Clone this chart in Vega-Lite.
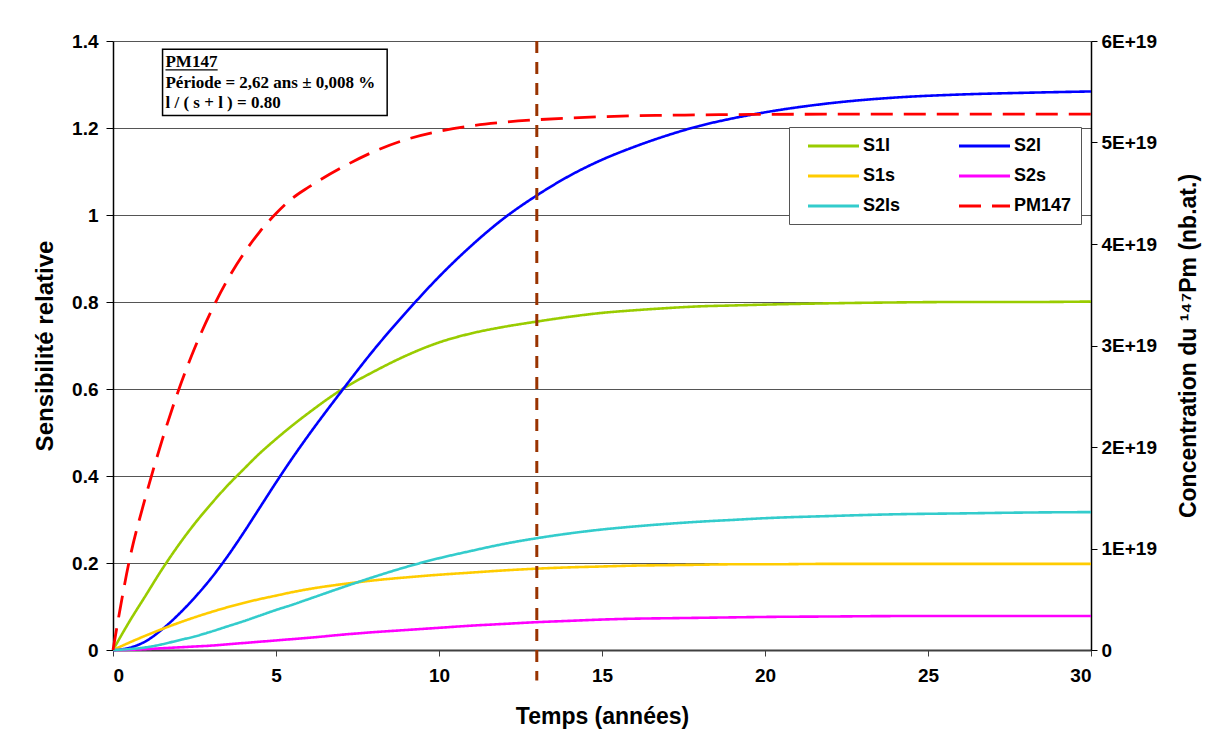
{
  "$schema": "https://vega.github.io/schema/vega-lite/v6.json",
  "width": 978,
  "height": 609,
  "autosize": {"type": "none"},
  "padding": {"left": 113, "top": 41, "right": 124, "bottom": 104},
  "background": "white",
  "config": {
    "view": {"stroke": null},
    "font": "Liberation Sans",
    "axis": {
      "labelFont": "Liberation Sans",
      "labelFontWeight": "bold",
      "labelFontSize": 19,
      "labelColor": "black",
      "titleFont": "Liberation Sans",
      "titleFontWeight": "bold",
      "titleFontSize": 23,
      "titleColor": "black"
    },
    "legend": {
      "orient": "none",
      "legendX": 676,
      "legendY": 86,
      "columns": 2,
      "fillColor": "white",
      "strokeColor": "#555555",
      "padding": 9,
      "labelFont": "Liberation Sans",
      "labelFontWeight": "bold",
      "labelFontSize": 18,
      "labelColor": "black",
      "symbolType": "M0,0H6",
      "symbolStrokeWidth": 3,
      "symbolSize": 289,
      "labelOffset": 45,
      "columnPadding": 48,
      "rowPadding": 11
    }
  },
  "datasets": {
    "s": [
      {"t": 0, "S1l": 0, "S2l": 0, "S1s": 0, "S2s": 0, "S2ls": 0},
      {"t": 0.5, "S1l": 0.065, "S2l": 0.005, "S1s": 0.017, "S2s": 0.0005, "S2ls": 0.002},
      {"t": 1, "S1l": 0.125, "S2l": 0.02, "S1s": 0.033, "S2s": 0.002, "S2ls": 0.006},
      {"t": 1.5, "S1l": 0.185, "S2l": 0.047, "S1s": 0.048, "S2s": 0.004, "S2ls": 0.013},
      {"t": 2, "S1l": 0.24, "S2l": 0.081, "S1s": 0.062, "S2s": 0.006, "S2ls": 0.022},
      {"t": 2.5, "S1l": 0.29, "S2l": 0.12, "S1s": 0.075, "S2s": 0.008, "S2ls": 0.031},
      {"t": 3, "S1l": 0.335, "S2l": 0.164, "S1s": 0.087, "S2s": 0.01, "S2ls": 0.042},
      {"t": 3.5, "S1l": 0.377, "S2l": 0.214, "S1s": 0.098, "S2s": 0.013, "S2ls": 0.054},
      {"t": 4, "S1l": 0.415, "S2l": 0.269, "S1s": 0.108, "S2s": 0.016, "S2ls": 0.066},
      {"t": 4.5, "S1l": 0.452, "S2l": 0.327, "S1s": 0.117, "S2s": 0.019, "S2ls": 0.079},
      {"t": 5, "S1l": 0.485, "S2l": 0.385, "S1s": 0.125, "S2s": 0.022, "S2ls": 0.092},
      {"t": 5.5, "S1l": 0.516, "S2l": 0.441, "S1s": 0.133, "S2s": 0.025, "S2ls": 0.104},
      {"t": 6, "S1l": 0.545, "S2l": 0.494, "S1s": 0.14, "S2s": 0.028, "S2ls": 0.117},
      {"t": 7, "S1l": 0.598, "S2l": 0.594, "S1s": 0.151, "S2s": 0.035, "S2ls": 0.143},
      {"t": 8, "S1l": 0.64, "S2l": 0.69, "S1s": 0.16, "S2s": 0.041, "S2ls": 0.168},
      {"t": 9, "S1l": 0.677, "S2l": 0.777, "S1s": 0.167, "S2s": 0.046, "S2ls": 0.191},
      {"t": 10, "S1l": 0.707, "S2l": 0.858, "S1s": 0.173, "S2s": 0.051, "S2ls": 0.211},
      {"t": 11, "S1l": 0.728, "S2l": 0.93, "S1s": 0.178, "S2s": 0.056, "S2ls": 0.228},
      {"t": 12, "S1l": 0.743, "S2l": 0.993, "S1s": 0.183, "S2s": 0.06, "S2ls": 0.244},
      {"t": 13, "S1l": 0.755, "S2l": 1.045, "S1s": 0.187, "S2s": 0.064, "S2ls": 0.257},
      {"t": 14, "S1l": 0.766, "S2l": 1.09, "S1s": 0.19, "S2s": 0.067, "S2ls": 0.268},
      {"t": 15, "S1l": 0.775, "S2l": 1.127, "S1s": 0.192, "S2s": 0.07, "S2ls": 0.277},
      {"t": 16, "S1l": 0.781, "S2l": 1.157, "S1s": 0.194, "S2s": 0.072, "S2ls": 0.284},
      {"t": 17, "S1l": 0.786, "S2l": 1.183, "S1s": 0.195, "S2s": 0.073, "S2ls": 0.29},
      {"t": 18, "S1l": 0.79, "S2l": 1.205, "S1s": 0.196, "S2s": 0.074, "S2ls": 0.295},
      {"t": 19, "S1l": 0.792, "S2l": 1.222, "S1s": 0.197, "S2s": 0.075, "S2ls": 0.299},
      {"t": 20, "S1l": 0.794, "S2l": 1.236, "S1s": 0.197, "S2s": 0.076, "S2ls": 0.303},
      {"t": 22, "S1l": 0.797, "S2l": 1.257, "S1s": 0.198, "S2s": 0.077, "S2ls": 0.308},
      {"t": 24, "S1l": 0.799, "S2l": 1.27, "S1s": 0.198, "S2s": 0.078, "S2ls": 0.312},
      {"t": 26, "S1l": 0.8, "S2l": 1.277, "S1s": 0.198, "S2s": 0.078, "S2ls": 0.314},
      {"t": 28, "S1l": 0.8, "S2l": 1.281, "S1s": 0.198, "S2s": 0.078, "S2ls": 0.316},
      {"t": 30, "S1l": 0.801, "S2l": 1.284, "S1s": 0.198, "S2s": 0.078, "S2ls": 0.317}
    ],
    "pm": [
      {"t": 0, "series": "PM147", "conc": 0},
      {"t": 0.5, "series": "PM147", "conc": 0.879e19},
      {"t": 1, "series": "PM147", "conc": 1.509e19},
      {"t": 1.5, "series": "PM147", "conc": 2.06e19},
      {"t": 2, "series": "PM147", "conc": 2.55e19},
      {"t": 2.5, "series": "PM147", "conc": 2.97e19},
      {"t": 3, "series": "PM147", "conc": 3.33e19},
      {"t": 3.5, "series": "PM147", "conc": 3.64e19},
      {"t": 4, "series": "PM147", "conc": 3.9e19},
      {"t": 4.5, "series": "PM147", "conc": 4.12e19},
      {"t": 5, "series": "PM147", "conc": 4.3e19},
      {"t": 5.5, "series": "PM147", "conc": 4.45e19},
      {"t": 6, "series": "PM147", "conc": 4.56e19},
      {"t": 7, "series": "PM147", "conc": 4.75e19},
      {"t": 8, "series": "PM147", "conc": 4.91e19},
      {"t": 9, "series": "PM147", "conc": 5.03e19},
      {"t": 10, "series": "PM147", "conc": 5.11e19},
      {"t": 11, "series": "PM147", "conc": 5.165e19},
      {"t": 12, "series": "PM147", "conc": 5.2e19},
      {"t": 13, "series": "PM147", "conc": 5.224e19},
      {"t": 14, "series": "PM147", "conc": 5.241e19},
      {"t": 15, "series": "PM147", "conc": 5.254e19},
      {"t": 16, "series": "PM147", "conc": 5.263e19},
      {"t": 17, "series": "PM147", "conc": 5.268e19},
      {"t": 18, "series": "PM147", "conc": 5.272e19},
      {"t": 19, "series": "PM147", "conc": 5.275e19},
      {"t": 20, "series": "PM147", "conc": 5.277e19},
      {"t": 22, "series": "PM147", "conc": 5.279e19},
      {"t": 24, "series": "PM147", "conc": 5.28e19},
      {"t": 26, "series": "PM147", "conc": 5.28e19},
      {"t": 28, "series": "PM147", "conc": 5.28e19},
      {"t": 30, "series": "PM147", "conc": 5.28e19}
    ],
    "marker": [{"t": 13, "top": 1.4, "bottom": -0.07}],
    "box": [{"x1": 1.52, "x2": 8.41, "y1": 1.381, "y2": 1.229}],
    "notes": [
      {"t": 1.61, "v": 1.3395, "label": "PM147"},
      {"t": 1.61, "v": 1.291, "label": "Période = 2,62 ans ± 0,008 %"},
      {"t": 1.61, "v": 1.245, "label": "l / ( s + l ) = 0.80"}
    ],
    "underline": [{"x1": 1.61, "x2": 3.21, "y": 1.3337}]
  },
  "layer": [
    {
      "layer": [
        {
          "data": {"name": "s"},
          "transform": [{"fold": ["S1l", "S2l", "S1s", "S2s", "S2ls"], "as": ["series", "value"]}],
          "mark": {"type": "line", "strokeWidth": 2.6, "interpolate": "monotone"},
          "encoding": {
            "x": {
              "field": "t", "type": "quantitative", "title": "Temps (années)",
              "scale": {"domain": [0, 30], "nice": false},
              "axis": {
                "values": [0, 5, 10, 15, 20, 25, 30], "format": "d", "grid": false,
                "domainColor": "#404040", "domainWidth": 2, "tickColor": "#404040",
                "tickSize": 6, "labelPadding": 10, "titlePadding": 20
              }
            },
            "y": {
              "field": "value", "type": "quantitative", "title": "Sensibilité relative",
              "scale": {"domain": [0, 1.4], "nice": false},
              "axis": {
                "values": [0, 0.2, 0.4, 0.6, 0.8, 1, 1.2, 1.4], "format": ".1~f",
                "grid": true, "gridColor": "#555555", "gridWidth": 1,
                "domainColor": "black", "domainWidth": 1.5, "tickColor": "black",
                "tickSize": 7, "labelPadding": 8, "titlePadding": 14, "titleFontSize": 24
              }
            },
            "color": {
              "field": "series", "type": "nominal",
              "scale": {
                "domain": ["S1l", "S1s", "S2ls", "S2l", "S2s", "PM147"],
                "range": ["#99CC00", "#FFCC00", "#33CCCC", "#0000FF", "#FF00FF", "#FF0000"]
              },
              "legend": {"title": null}
            },
            "strokeDash": {
              "field": "series", "type": "nominal",
              "scale": {
                "domain": ["S1l", "S1s", "S2ls", "S2l", "S2s", "PM147"],
                "range": [[1, 0], [1, 0], [1, 0], [1, 0], [1, 0], [22, 11]]
              },
              "legend": {"title": null}
            }
          }
        },
        {
          "data": {"name": "marker"},
          "mark": {"type": "rule", "color": "#993300", "strokeWidth": 3, "strokeDash": [12, 9]},
          "encoding": {
            "x": {"field": "t", "type": "quantitative", "title": "Temps (années)", "scale": {"domain": [0, 30], "nice": false}},
            "y": {"field": "top", "type": "quantitative", "title": "Sensibilité relative", "scale": {"domain": [0, 1.4], "nice": false}},
            "y2": {"field": "bottom"}
          }
        },
        {
          "data": {"name": "box"},
          "mark": {"type": "rect", "fill": "white", "stroke": "black", "strokeWidth": 1.5},
          "encoding": {
            "x": {"field": "x1", "type": "quantitative", "title": "Temps (années)", "scale": {"domain": [0, 30], "nice": false}},
            "x2": {"field": "x2"},
            "y": {"field": "y1", "type": "quantitative", "title": "Sensibilité relative", "scale": {"domain": [0, 1.4], "nice": false}},
            "y2": {"field": "y2"}
          }
        },
        {
          "data": {"name": "notes"},
          "mark": {"type": "text", "align": "left", "baseline": "alphabetic", "font": "Liberation Serif", "fontWeight": "bold", "fontSize": 17, "color": "black"},
          "encoding": {
            "x": {"field": "t", "type": "quantitative", "title": "Temps (années)", "scale": {"domain": [0, 30], "nice": false}},
            "y": {"field": "v", "type": "quantitative", "title": "Sensibilité relative", "scale": {"domain": [0, 1.4], "nice": false}},
            "text": {"field": "label"}
          }
        },
        {
          "data": {"name": "underline"},
          "mark": {"type": "rule", "color": "black", "strokeWidth": 1.3},
          "encoding": {
            "x": {"field": "x1", "type": "quantitative", "title": "Temps (années)", "scale": {"domain": [0, 30], "nice": false}},
            "x2": {"field": "x2"},
            "y": {"field": "y", "type": "quantitative", "title": "Sensibilité relative", "scale": {"domain": [0, 1.4], "nice": false}}
          }
        }
      ]
    },
    {
      "data": {"name": "pm"},
      "mark": {"type": "line", "strokeWidth": 2.8, "interpolate": "monotone"},
      "encoding": {
        "x": {"field": "t", "type": "quantitative", "title": "Temps (années)", "scale": {"domain": [0, 30], "nice": false}},
        "y": {
          "field": "conc", "type": "quantitative", "title": "Concentration du ¹⁴⁷Pm (nb.at.)",
          "scale": {"domain": [0, 6e19], "nice": false},
          "axis": {
            "orient": "right",
            "values": [0, 1e19, 2e19, 3e19, 4e19, 5e19, 6e19],
            "labelExpr": "datum.value == 0 ? '0' : round(datum.value / 1e19) + 'E+19'",
            "grid": false, "domainColor": "black", "domainWidth": 1.5, "tickColor": "black",
            "tickSize": 6, "labelPadding": 4, "titlePadding": 44,
            "titleAngle": 270, "titleBaseline": "bottom"
          }
        },
        "color": {
          "field": "series", "type": "nominal",
          "scale": {
            "domain": ["S1l", "S1s", "S2ls", "S2l", "S2s", "PM147"],
            "range": ["#99CC00", "#FFCC00", "#33CCCC", "#0000FF", "#FF00FF", "#FF0000"]
          },
          "legend": {"title": null}
        },
        "strokeDash": {
          "field": "series", "type": "nominal",
          "scale": {
            "domain": ["S1l", "S1s", "S2ls", "S2l", "S2s", "PM147"],
            "range": [[1, 0], [1, 0], [1, 0], [1, 0], [1, 0], [22, 11]]
          },
          "legend": {"title": null}
        }
      }
    }
  ],
  "resolve": {"scale": {"y": "independent"}}
}
